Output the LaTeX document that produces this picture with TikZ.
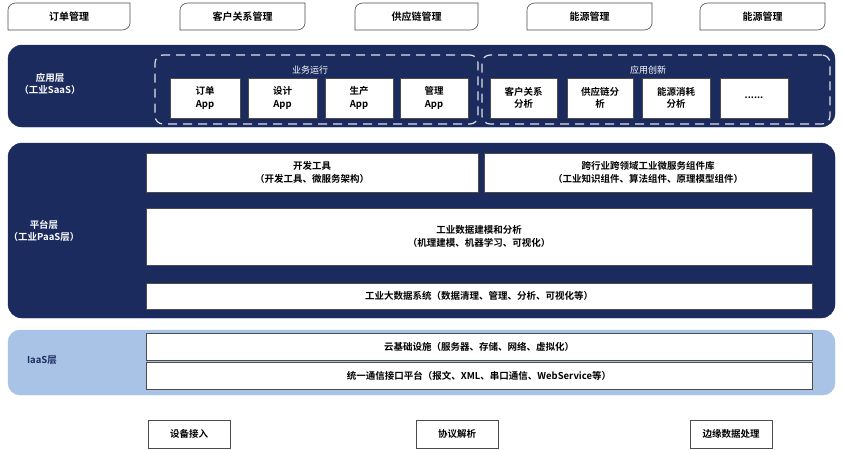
\documentclass[tikz,border=0pt]{standalone}
\usepackage{fontspec}
\setmainfont{Noto Sans CJK SC}[BoldFont={* Bold}]
\begin{document}
\begin{tikzpicture}[x=1pt,y=-1pt,
  box/.style={draw=black!70,fill=white,line width=0.6pt,font=\bfseries\fontsize{9.5}{12.5}\selectfont,align=center,inner sep=0pt},
  lbl/.style={font=\bfseries\fontsize{9.5}{12.5}\selectfont,align=center,text=white},
  tabtxt/.style={font=\bfseries\fontsize{10}{12}\selectfont}]
\definecolor{navy}{HTML}{1C2B5E}
\definecolor{lblue}{HTML}{A9C3E6}
\useasboundingbox (0,0) rectangle (844,450);
% top tabs
\foreach \n/\a/\b/\t in {t1/8/130/订单管理,t2/180/305/客户关系管理,t3/355/478/供应链管理,t4/527/652/能源管理,t5/700/825/能源管理}{
  \draw[black!70,line width=0.6pt,fill=white] (\a,30) -- (\a,10) to[out=90,in=180] (\a+8,3) -- (\b,3) -- (\b,23) to[out=-90,in=0] (\b-8,30) -- cycle;
  \node[tabtxt] (\n) at ({(\a+\b)/2},16.5) {\t};
}
% application layer
\node[draw=navy,fill=navy,rounded corners=14pt,minimum width=827pt,minimum height=82pt,inner sep=0pt] (app) at (421.5,86) {};
\node[lbl] (applbl) at (50,84) {应用层\\（工业SaaS）};
\node[draw=white!85!navy,dashed,dash pattern=on 9pt off 6pt,line width=1.2pt,rounded corners=8pt,minimum width=323pt,minimum height=69pt,inner sep=0pt] (ops) at (316.5,89.5) {};
\node[draw=white!85!navy,dashed,dash pattern=on 9pt off 6pt,line width=1.2pt,rounded corners=8pt,minimum width=348pt,minimum height=69pt,inner sep=0pt] (inn) at (656,89.5) {};
\node[lbl,font=\fontsize{9}{11}\selectfont] (opsl) at (310,70) {业务运行};
\node[lbl,font=\fontsize{9}{11}\selectfont] (innl) at (648,70) {应用创新};
\foreach \n/\a/\b/\t in {a1/170/240/{订单\\App},a2/248/317/{设计\\App},a3/325/393/{生产\\App},a4/400/468/{管理\\App},a5/490/557/{客户关系\\分析},a6/567/633/{供应链分\\析},a7/642/710/{能源消耗\\分析}}{
  \node[box,minimum width={\b-\a},minimum height=40pt] (\n) at ({(\a+\b)/2},98) {\t};
}
\node[box,minimum width=68pt,minimum height=40pt] (a8) at (754,98) {......};
% platform layer
\node[draw=navy,fill=navy,rounded corners=14pt,minimum width=827pt,minimum height=175pt,inner sep=0pt] (plat) at (421.5,230.5) {};
\node[lbl] (platlbl) at (44,231) {平台层\\（工业PaaS层）};
\node[box,minimum width=332pt,minimum height=39pt] (dev) at (312,172.5) {开发工具\\（开发工具、微服务架构）};
\node[box,minimum width=328pt,minimum height=39pt] (lib) at (648,172.5) {跨行业跨领域工业微服务组件库\\（工业知识组件、算法组件、原理模型组件）};
\node[box,minimum width=666pt,minimum height=57pt] (model) at (479,236.5) {工业数据建模和分析\\（机理建模、机器学习、可视化）};
\node[box,minimum width=666pt,minimum height=26pt] (big) at (479,296) {工业大数据系统（数据清理、管理、分析、可视化等）};
% IaaS
\node[draw=lblue,fill=lblue,rounded corners=12pt,minimum width=827pt,minimum height=65pt,inner sep=0pt] (iaas) at (421.5,362.5) {};
\node[font=\bfseries\fontsize{9.5}{12}\selectfont,text=navy] (iaaslbl) at (42,360) {IaaS层};
\node[box,minimum width=666pt,minimum height=27pt] (cloud) at (479,346.5) {云基础设施（服务器、存储、网络、虚拟化）};
\node[box,minimum width=666pt,minimum height=27pt] (comm) at (479,375.5) {统一通信接口平台（报文、XML、串口通信、WebService等）};
% bottom
\node[box,minimum width=82pt,minimum height=28pt] (b1) at (189,434) {设备接入};
\node[box,minimum width=82pt,minimum height=28pt] (b2) at (457,434) {协议解析};
\node[box,minimum width=82pt,minimum height=28pt] (b3) at (731,434) {边缘数据处理};
\end{tikzpicture}
\end{document}
